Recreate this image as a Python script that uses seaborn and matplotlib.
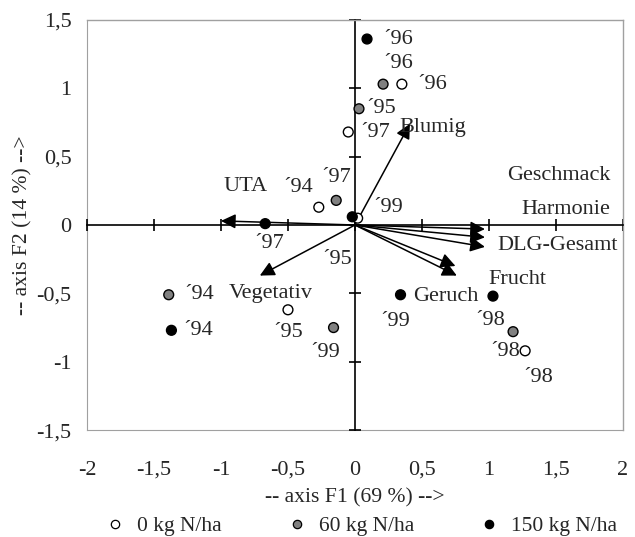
import matplotlib
matplotlib.use("Agg")
import matplotlib.pyplot as plt
import seaborn as sns
import pandas as pd

# scores of the samples (F1 / F2), one list per N level
years = ["´94", "´95", "´96", "´97", "´98", "´99"]
f1_n0 = [-0.27, -0.50, 0.35, -0.05, 1.27, 0.02]
f2_n0 = [0.13, -0.62, 1.03, 0.68, -0.92, 0.05]
f1_n60 = [-1.39, 0.03, 0.21, -0.14, 1.18, -0.16]
f2_n60 = [-0.51, 0.85, 1.03, 0.18, -0.78, -0.75]
f1_n150 = [-1.37, -0.02, 0.09, -0.67, 1.03, 0.34]
f2_n150 = [-0.77, 0.06, 1.36, 0.01, -0.52, -0.51]
groups = ["0 kg N/ha", "60 kg N/ha", "150 kg N/ha"]

# loadings of the variables
variables = ["UTA", "Blumig", "Vegetativ", "Geschmack", "Harmonie",
             "DLG-Gesamt", "Frucht", "Geruch"]
load_f1 = [-1.00, 0.41, -0.71, 0.97, 0.97, 0.97, 0.75, 0.76]
load_f2 = [0.03, 0.74, -0.37, -0.03, -0.09, -0.16, -0.30, -0.37]

# where the variable names sit (data coords)
var_text_x = [-0.82, 0.58, -0.63, 1.52, 1.57, 1.51, 1.21, 0.68]
var_text_y = [0.28, 0.71, -0.50, 0.36, 0.11, -0.15, -0.40, -0.52]

# year label offsets in pixels, per group
year_off = {
    "0 kg N/ha": [(-21, 20), (0, -23), (30, 0), (27, 0), (13, -27), (30, 11)],
    "60 kg N/ha": [(30, 0), (22, 0), (15, 21), (0, 23), (-8, -20), (-8, -25)],
    "150 kg N/ha": [(27, 0), (-15, -43), (31, 0), (4, -20), (-3, -24), (-5, -27)],
}

df = pd.DataFrame({
    "F1": f1_n0 + f1_n60 + f1_n150,
    "F2": f2_n0 + f2_n60 + f2_n150,
    "year": years * 3,
    "N": [g for g in groups for _ in years],
})

sns.set_style("white")
plt.rcParams["font.family"] = ["Liberation Serif", "DejaVu Serif"]

fig = plt.figure(figsize=(6.35, 5.37), dpi=100)
ax = fig.add_axes([0.137, 0.199, 0.844, 0.764])

# axes through the origin
for side in ["left", "bottom"]:
    ax.spines[side].set_position(("data", 0))
    ax.spines[side].set_color("black")
    ax.spines[side].set_linewidth(1.2)
for side in ["top", "right"]:
    ax.spines[side].set_color("#a0a0a0")
    ax.spines[side].set_linewidth(1.0)

xt = [-2, -1.5, -1, -0.5, 0, 0.5, 1, 1.5, 2]
yt = [-1.5, -1, -0.5, 0, 0.5, 1, 1.5]
ax.set_xlim(-2, 2)
ax.set_ylim(-1.5, 1.5)
ax.set_xticks(xt)
ax.set_yticks(yt)
ax.tick_params(direction="inout", length=9, width=1.2, color="black",
               labelleft=False, labelbottom=False, left=True, bottom=True)

# tick labels on the frame
fmt = lambda v: ("%g" % v).replace(".", ",")
secx = ax.secondary_xaxis("bottom")
secx.set_xticks(xt)
secx.set_xticklabels([fmt(v) for v in xt])
secx.tick_params(length=0, pad=22, labelsize=16)
secx.spines["bottom"].set_color("#a0a0a0")
secx.set_xlabel("-- axis F1 (69 %) -->", fontsize=15.6, labelpad=6)
secy = ax.secondary_yaxis("left")
secy.set_yticks(yt)
secy.set_yticklabels([fmt(v) for v in yt])
secy.tick_params(length=0, pad=11, labelsize=16)
secy.spines["left"].set_color("#a0a0a0")
secy.set_ylabel("-- axis F2 (14 %) -->", fontsize=15.6, labelpad=3)

# variable arrows
for name, lx, ly, tx, ty in zip(variables, load_f1, load_f2, var_text_x, var_text_y):
    ax.annotate("", xy=(lx, ly), xytext=(0, 0),
                arrowprops=dict(arrowstyle="-|>", color="black", lw=1.1,
                                mutation_scale=22, shrinkA=0, shrinkB=0))
    ax.text(tx, ty, name, fontsize=16, ha="center", va="center")

# sample scores
palette = {"0 kg N/ha": "white", "60 kg N/ha": "#808080", "150 kg N/ha": "black"}
sns.scatterplot(data=df, x="F1", y="F2", hue="N", palette=palette,
                edgecolor="black", linewidth=1.0, s=50, ax=ax, zorder=5,
                legend=False)

for g in groups:
    sub = df[df["N"] == g]
    for (x, y, yr), (dx, dy) in zip(sub[["F1", "F2", "year"]].values, year_off[g]):
        ax.annotate(yr, (x, y), xytext=(dx * 0.72, dy * 0.72),
                    textcoords="offset points", fontsize=16,
                    ha="center", va="center")

handles = [plt.Line2D([], [], marker="o", ls="", markersize=6,
                      markerfacecolor=palette[g], markeredgecolor="black",
                      markeredgewidth=0.9, label=g) for g in groups]
fig.legend(handles=handles, loc="lower center", ncol=3, frameon=False,
           fontsize=15.5, bbox_to_anchor=(0.568, -0.035), columnspacing=3.0,
           handletextpad=0.5, handlelength=1.0)

fig.savefig("out.png", dpi=100)
